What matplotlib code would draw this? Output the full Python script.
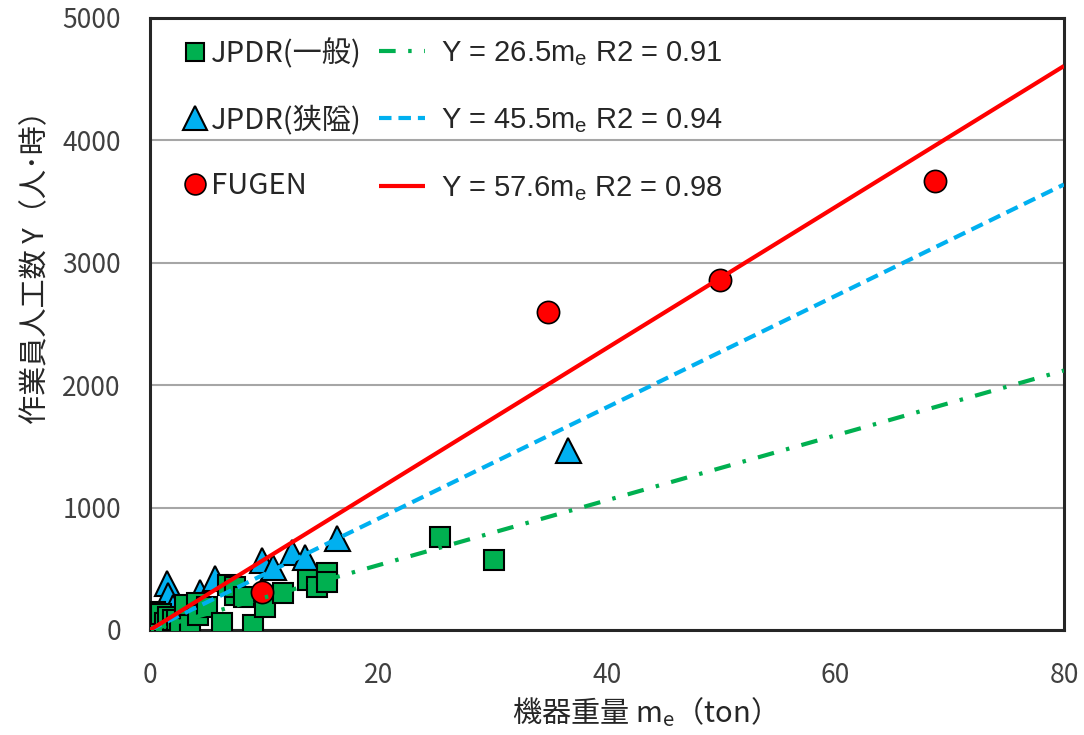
import matplotlib
matplotlib.use("Agg")
import matplotlib.pyplot as plt
import numpy as np
from matplotlib.lines import Line2D

plt.rcParams['font.family'] = ['Noto Sans CJK JP', 'DejaVu Sans']
plt.rcParams['lines.scale_dashes'] = False

# ---------------- data ----------------
general_x = [0.1, 0.1, 0.4, 0.6, 0.9, 1.0, 1.3, 1.6, 2.0, 2.4, 2.6, 3.1, 3.5, 4.1, 4.2,
             5.0, 6.3, 6.8, 7.4, 7.4, 8.2, 9.0, 10.1, 11.6, 13.8, 14.6, 15.5, 15.5,
             25.4, 30.1]
general_y = [106, 16, 147, 60, 16, 130, 60, 110, 82, 80, 20, 204, 41, 220, 123,
             188, 57, 368, 286, 351, 270, 41, 188, 302, 408, 351, 466, 392,
             760, 570]

narrow_x = [0.3, 0.8, 1.2, 1.5, 1.6, 2.0, 4.4, 5.7, 9.8, 10.8, 12.4, 13.6, 16.4, 36.6]
narrow_y = [40, 90, 150, 384, 286, 188, 310, 425, 572, 515, 637, 596, 751, 1470]

fugen_x = [9.8, 34.8, 49.9, 68.7]
fugen_y = [310, 2600, 2860, 3670]

fit_slopes = [26.5, 45.5, 57.6]
fit_r2 = [0.91, 0.94, 0.98]
series_names = ['JPDR(一般)', 'JPDR(狭隘)', 'FUGEN']

x_ticks = [0, 20, 40, 60, 80]
y_ticks = [0, 1000, 2000, 3000, 4000, 5000]

# ---------------- style ----------------
c_green = '#00B050'
c_blue = '#00B0F0'
c_red = '#FF0000'
line_styles = [(0, (12, 9, 2.5, 9)), (0, (9, 5)), '-']
line_colors = [c_green, c_blue, c_red]

fig = plt.figure(figsize=(10.84, 7.35), dpi=100)
ax = fig.add_axes([150/1084, 105/735, 914/1084, 612/735])

ax.plot(narrow_x, narrow_y, linestyle='none', marker='^', markersize=18,
        markerfacecolor=c_blue, markeredgecolor='black', markeredgewidth=1.5, zorder=3)
ax.plot(general_x, general_y, linestyle='none', marker='s', markersize=14,
        markerfacecolor=c_green, markeredgecolor='black', markeredgewidth=1.5, zorder=4)
ax.plot(fugen_x, fugen_y, linestyle='none', marker='o', markersize=16,
        markerfacecolor=c_red, markeredgecolor='black', markeredgewidth=1.2, zorder=5)

xf = np.array([x_ticks[0], x_ticks[-1]], dtype=float)
line_handles = []
for s, col, ls in zip(fit_slopes, line_colors, line_styles):
    ln, = ax.plot(xf, s * xf, color=col, linestyle=ls, linewidth=3, zorder=6,
                  solid_capstyle='butt', dash_capstyle='butt')
    line_handles.append(ln)

ax.set_xlim(x_ticks[0], x_ticks[-1])
ax.set_ylim(y_ticks[0], y_ticks[-1])
ax.set_xticks(x_ticks)
ax.set_yticks(y_ticks)
ax.tick_params(length=0, labelsize=19, labelcolor='#404040', pad=21)
ax.tick_params(axis='x', pad=23)
ax.yaxis.grid(True, color='#A6A6A6', linewidth=1.5)
ax.set_axisbelow(True)
for sp in ax.spines.values():
    sp.set_linewidth(2.2)
    sp.set_color('#262626')

fig.text(36/1084, 1 - 260/735, '作業員人工数 Y（人･時）', rotation=90,
         ha='center', va='center', fontsize=21, color='#262626')
fig.text(637/1084, 1 - 712/735, '機器重量 m$_\\mathregular{e}$（ton）',
         ha='center', va='center', fontsize=21, color='#262626',
         fontfamily='Noto Sans CJK JP')

# legends
marker_handles = [
    Line2D([], [], linestyle='none', marker='s', markersize=13, markerfacecolor=c_green,
           markeredgecolor='black', markeredgewidth=1.5),
    Line2D([], [], linestyle='none', marker='^', markersize=17, markerfacecolor=c_blue,
           markeredgecolor='black', markeredgewidth=1.5),
    Line2D([], [], linestyle='none', marker='o', markersize=15, markerfacecolor=c_red,
           markeredgecolor='black', markeredgewidth=1.2),
]
leg1 = ax.legend(marker_handles, series_names, loc='upper left',
                 bbox_to_anchor=(0.036, 0.966), frameon=False, borderpad=0,
                 borderaxespad=0, handlelength=0.8, handletextpad=0.15,
                 labelspacing=1.23, prop={'family': 'Noto Sans CJK JP', 'size': 21})
for t in leg1.get_texts():
    t.set_color('#262626')
ax.add_artist(leg1)

line_labels = ['Y = %.1fm$_\\mathregular{e}$ R2 = %.2f' % (s, r) for s, r in zip(fit_slopes, fit_r2)]
leg2 = ax.legend(line_handles, line_labels, loc='upper left',
                 bbox_to_anchor=(0.25, 0.966), frameon=False, borderpad=0,
                 borderaxespad=0, handlelength=1.6, handletextpad=0.55,
                 labelspacing=1.34, prop={'family': 'Liberation Sans', 'size': 21})
for t in leg2.get_texts():
    t.set_color('#262626')

fig.savefig('out.png', dpi=100)
